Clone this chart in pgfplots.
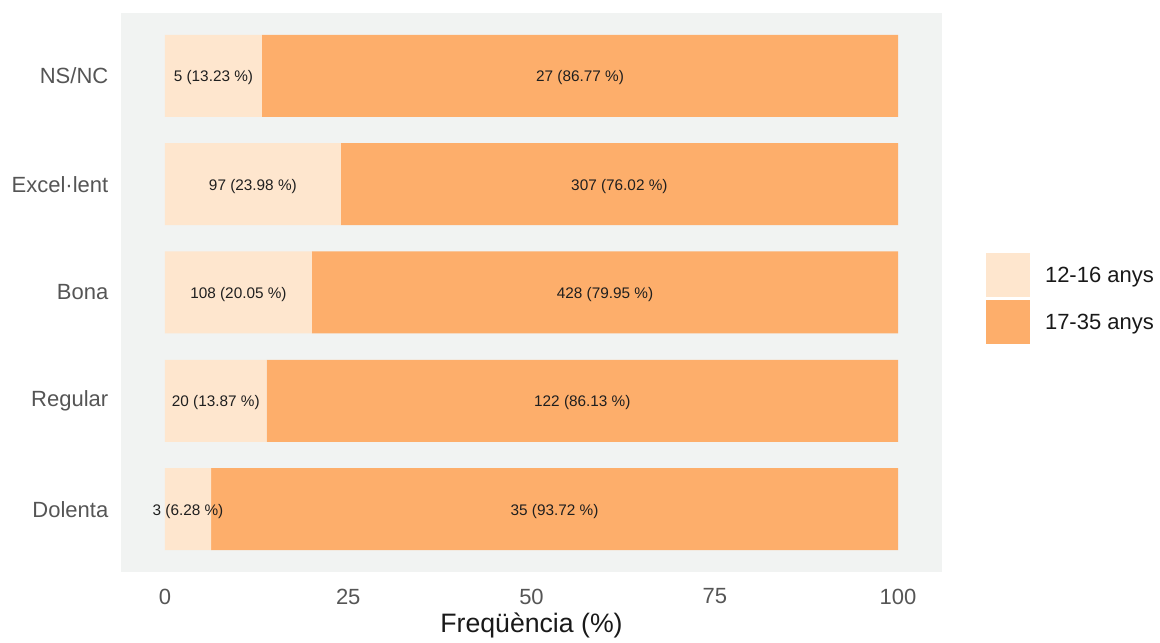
\documentclass[border=0pt]{standalone}
\usepackage{pgfplots}
\pgfplotsset{compat=1.18}
\usepackage{fontspec}
\setmainfont{Liberation Sans}
\definecolor{light}{HTML}{FEE6CE}
\definecolor{dark}{HTML}{FDAE6B}
\definecolor{panel}{HTML}{F1F3F2}
\definecolor{ticktxt}{HTML}{555555}
\definecolor{bartxt}{HTML}{1F1F1F}
\begin{document}
\begin{tikzpicture}
\pgfplotsset{common/.style={width=615.75pt,height=419.25pt,scale only axis,
  xmin=-6,xmax=106,ymin=0.42,ymax=5.58}}
\begin{axis}[common, name=ax,
  xbar stacked, bar width=0.757,
  axis background/.style={fill=panel},
  axis line style={draw=none},
  major tick length=0pt,
  xtick={0,25,50,75,100},
  ytick={1,2,3,4,5},
  yticklabels={Dolenta,Regular,Bona,Excel·lent,NS/NC},
  /pgf/number format/assume math mode=true,
  tick label style={font=\fontsize{16.5}{18}\selectfont, text=ticktxt},
  xticklabel style={yshift=-9pt},
  yticklabel style={xshift=-6pt},
  xlabel={Freqüència (\%)},
  xlabel style={font=\fontsize{20}{22}\selectfont, text=black!90, at={(axis description cs:0.5,-0.1091)}, anchor=base},
  legend style={at={(1.0536,0.4884)}, anchor=west, draw=none, fill=none,
    inner sep=0pt, outer sep=0pt, row sep=2.25pt, column sep=11.25pt,
    font=\fontsize{16.5}{18}\selectfont, text=black!90,
    nodes={inner sep=0pt, anchor=west}},
  legend cell align=left,
  legend image code/.code={\fill[#1] (0pt,-16.5pt) rectangle (33pt,16.5pt);},
]
\addplot[fill=light, draw=none] coordinates {(6.28,1) (13.87,2) (20.05,3) (23.98,4) (13.23,5)};
\addplot[fill=dark, draw=none] coordinates {(93.72,1) (86.13,2) (79.95,3) (76.02,4) (86.77,5)};
\legend{12-16 anys,17-35 anys}
\end{axis}
\begin{axis}[common, hide axis,
  point meta=explicit symbolic,
  nodes near coords,
  nodes near coords align=center,
  every node near coord/.style={anchor=center, yshift=-1.5pt, font=\fontsize{11.5}{13}\selectfont, text=bartxt},
]
\addplot[only marks, mark=none] coordinates {
 (3.14,1) [3 (6.28 \%)]
 (6.935,2) [20 (13.87 \%)]
 (10.025,3) [108 (20.05 \%)]
 (11.99,4) [97 (23.98 \%)]
 (6.615,5) [5 (13.23 \%)]
 (53.14,1) [35 (93.72 \%)]
 (56.935,2) [122 (86.13 \%)]
 (60.025,3) [428 (79.95 \%)]
 (61.99,4) [307 (76.02 \%)]
 (56.615,5) [27 (86.77 \%)]
};
\end{axis}
\path ([shift={(-90.75pt,-49.5pt)}]ax.south west) rectangle ([shift={(779.25pt,429pt)}]ax.south west);
\end{tikzpicture}
\end{document}
